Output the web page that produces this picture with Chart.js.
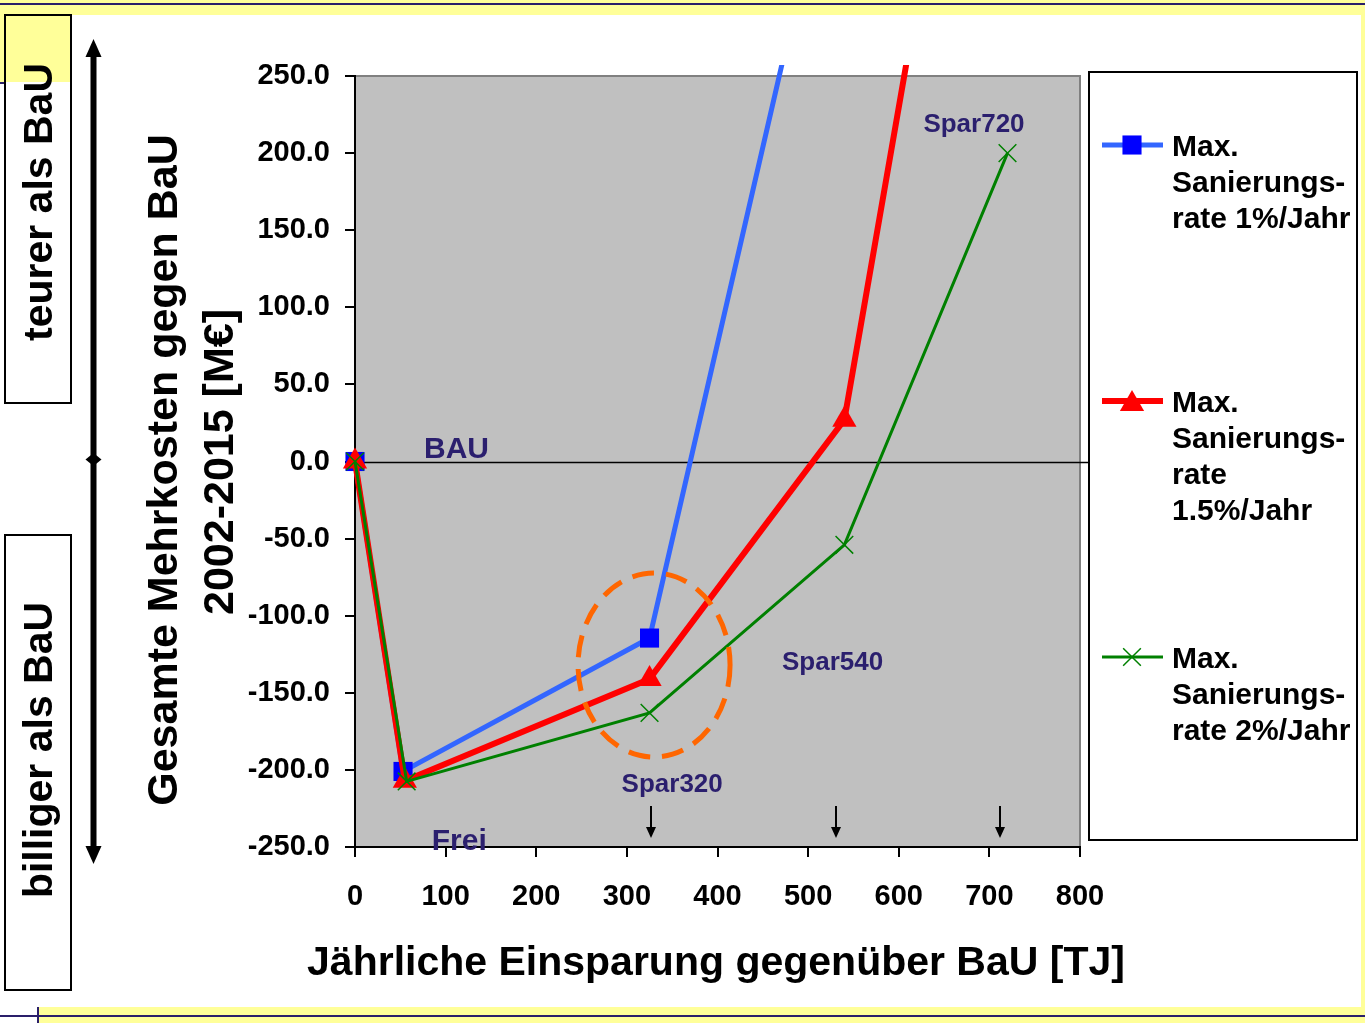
<!DOCTYPE html>
<html>
<head>
<meta charset="utf-8">
<script src="https://cdn.jsdelivr.net/npm/chart.js@4.4.1/dist/chart.umd.min.js"></script>
<style>
html, body { margin: 0; padding: 0; background: #fff; }
#wrap { width: 1365px; height: 1023px; position: relative; }
</style>
</head>
<body>
<div id="wrap"><canvas id="c" width="1365" height="1023"></canvas></div>
<script>
// Einsparung [TJ] (x) und Mehrkosten [M€] (y) je Sanierungsrate
const xRate1 = [0, 53, 325, 540];
const yRate1 = [0, -201, -114.5, 433];
const xRate15 = [0, 55, 325, 540, 720];
const yRate15 = [0, -207, -141, 27, 635];
const xRate2 = [0, 57, 325, 540, 720];
const yRate2 = [0, -207.5, -163, -54, 200];

const seriesNames = [
    ['Max.', 'Sanierungs-', 'rate 1%/Jahr'],
    ['Max.', 'Sanierungs-', 'rate', '1.5%/Jahr'],
    ['Max.', 'Sanierungs-', 'rate 2%/Jahr']
];

const xTitle = 'Jährliche Einsparung gegenüber BaU [TJ]';
const yTitle = ['Gesamte Mehrkosten gegen BaU', '2002-2015 [M€]'];

// Beschriftungen im Diagramm (Datenkoordinaten)
const noteText = ['BAU', 'Frei', 'Spar320', 'Spar540', 'Spar720'];
const noteX = [112, 115, 350, 527, 683];
const noteY = [7.4, -246.6, -209.6, -130.6, 218.4];
const noteSize = [30, 30, 26, 26, 26];
const arrowX = [327, 531, 712];

const FONT = '"Liberation Sans", Arial, sans-serif';

function pts(xs, ys) {
    return xs.map((x, i) => ({ x: x, y: ys[i] }));
}

const decor = {
    id: 'decor',
    beforeDraw(chart) {
        const ctx = chart.ctx, a = chart.chartArea;
        ctx.save();
        // Rahmen der Folie
        ctx.fillStyle = '#ffff99';
        ctx.fillRect(0, 0, 1365, 15);
        ctx.fillRect(38, 1007, 1327, 16);
        ctx.fillRect(1361, 0, 4, 1023);
        ctx.fillRect(0, 15, 72, 67);
        ctx.fillStyle = '#2a1f6a';
        ctx.fillRect(0, 3, 1365, 2);
        ctx.fillRect(0, 1015, 1365, 2);
        ctx.fillRect(0, 82, 5, 2);
        ctx.fillRect(37, 1007, 2, 16);
        // Plotfläche
        ctx.fillStyle = '#c0c0c0';
        ctx.fillRect(a.left, a.top, a.right - a.left, a.bottom - a.top);
        ctx.strokeStyle = '#808080';
        ctx.lineWidth = 2;
        ctx.beginPath();
        ctx.moveTo(a.left, a.top);
        ctx.lineTo(a.right, a.top);
        ctx.lineTo(a.right, a.bottom);
        ctx.stroke();
        ctx.restore();
    },
    beforeDatasetsDraw(chart) {
        const ctx = chart.ctx, a = chart.chartArea, y = chart.scales.y;
        const y0 = Math.round(y.getPixelForValue(0)) + 0.5;
        ctx.save();
        ctx.strokeStyle = '#000';
        ctx.lineWidth = 1.5;
        ctx.beginPath();
        ctx.moveTo(a.left - 10, y0);
        ctx.lineTo(1089, y0);
        ctx.stroke();
        ctx.restore();
    },
    afterDraw(chart) {
        const ctx = chart.ctx, a = chart.chartArea;
        const xs = chart.scales.x, ys = chart.scales.y;
        ctx.save();

        // Oranger Kreis um Spar320
        ctx.strokeStyle = '#ff6600';
        ctx.lineWidth = 5;
        ctx.setLineDash([22, 12]);
        ctx.beginPath();
        ctx.ellipse(xs.getPixelForValue(330), ys.getPixelForValue(-132), 76, 92, 0, 0, Math.PI * 2);
        ctx.stroke();
        ctx.setLineDash([]);

        // Texte im Diagramm
        ctx.fillStyle = '#2b1f6e';
        ctx.textAlign = 'center';
        ctx.textBaseline = 'middle';
        noteText.forEach((t, i) => {
            ctx.font = 'bold ' + noteSize[i] + 'px ' + FONT;
            ctx.fillText(t, xs.getPixelForValue(noteX[i]), ys.getPixelForValue(noteY[i]));
        });

        // kleine Pfeile
        ctx.strokeStyle = '#000';
        ctx.fillStyle = '#000';
        ctx.lineWidth = 2;
        arrowX.forEach(v => {
            const px = Math.round(xs.getPixelForValue(v));
            const top = a.bottom - 41, tip = a.bottom - 9;
            ctx.beginPath();
            ctx.moveTo(px, top);
            ctx.lineTo(px, tip - 8);
            ctx.stroke();
            ctx.beginPath();
            ctx.moveTo(px - 5, tip - 11);
            ctx.lineTo(px + 5, tip - 11);
            ctx.lineTo(px, tip);
            ctx.closePath();
            ctx.fill();
        });

        // Achsentitel
        ctx.fillStyle = '#000';
        ctx.textAlign = 'center';
        ctx.textBaseline = 'alphabetic';
        ctx.font = 'bold 41px ' + FONT;
        ctx.fillText(xTitle, 716, 975);
        ctx.font = 'bold 43px ' + FONT;
        ctx.save();
        ctx.translate(177, 470);
        ctx.rotate(-Math.PI / 2);
        ctx.fillText(yTitle[0], 0, 0);
        ctx.restore();
        ctx.save();
        ctx.translate(233, 462);
        ctx.rotate(-Math.PI / 2);
        ctx.fillText(yTitle[1], 0, 0);
        ctx.restore();

        // Kästen links
        ctx.strokeStyle = '#000';
        ctx.lineWidth = 2;
        ctx.strokeRect(5, 15, 66, 388);
        ctx.strokeRect(5, 535, 66, 455);
        ctx.font = 'bold 41px ' + FONT;
        ctx.save();
        ctx.translate(52, 202);
        ctx.rotate(-Math.PI / 2);
        ctx.fillText('teurer als BaU', 0, 0);
        ctx.restore();
        ctx.save();
        ctx.translate(52, 750);
        ctx.rotate(-Math.PI / 2);
        ctx.fillText('billiger als BaU', 0, 0);
        ctx.restore();

        // Doppelpfeil
        ctx.lineWidth = 6;
        ctx.beginPath();
        ctx.moveTo(93.5, 52);
        ctx.lineTo(93.5, 850);
        ctx.stroke();
        ctx.beginPath();
        ctx.moveTo(93.5, 39);
        ctx.lineTo(101.5, 57);
        ctx.lineTo(85.5, 57);
        ctx.closePath();
        ctx.fill();
        ctx.beginPath();
        ctx.moveTo(93.5, 864);
        ctx.lineTo(101.5, 846);
        ctx.lineTo(85.5, 846);
        ctx.closePath();
        ctx.fill();
        ctx.beginPath();
        ctx.moveTo(93.5, 453);
        ctx.lineTo(101.5, 459.5);
        ctx.lineTo(93.5, 466);
        ctx.lineTo(85.5, 459.5);
        ctx.closePath();
        ctx.fill();

        // Legende
        ctx.fillStyle = '#fff';
        ctx.fillRect(1089, 72, 268, 768);
        ctx.lineWidth = 2;
        ctx.strokeRect(1089, 72, 268, 768);
        const rowY = [145, 401, 657];
        ctx.font = 'bold 30px ' + FONT;
        ctx.textAlign = 'left';
        ctx.textBaseline = 'middle';
        chart.data.datasets.forEach((ds, i) => {
            const ly = rowY[i];
            ctx.strokeStyle = ds.borderColor;
            ctx.lineWidth = ds.borderWidth;
            ctx.beginPath();
            ctx.moveTo(1102, ly);
            ctx.lineTo(1163, ly);
            ctx.stroke();
            ctx.fillStyle = ds.pointBackgroundColor;
            ctx.strokeStyle = ds.pointBorderColor;
            ctx.lineWidth = ds.pointBorderWidth;
            Chart.helpers.drawPoint(ctx, {
                pointStyle: ds.pointStyle,
                radius: ds.pointRadius,
                borderWidth: ds.pointBorderWidth,
                rotation: 0
            }, 1132, ly + (ds.pointStyle === 'triangle' ? 3 : 0));
            ctx.fillStyle = '#000';
            seriesNames[i].forEach((line, k) => {
                ctx.fillText(line, 1172, ly + 3 + k * 36);
            });
        });
        ctx.restore();
    }
};

const ctx = document.getElementById('c').getContext('2d');
const lineClip = { left: 20, top: 11, right: 20, bottom: 20 };

window.chart = new Chart(ctx, {
    type: 'scatter',
    data: {
        datasets: [{
            label: seriesNames[0].join(' '),
            data: pts(xRate1, yRate1),
            showLine: true,
            borderColor: '#3366ff',
            borderWidth: 5,
            pointStyle: 'rect',
            pointRadius: 13.5,
            pointBackgroundColor: '#0000ff',
            pointBorderColor: '#0000ff',
            pointBorderWidth: 0,
            clip: lineClip,
            order: 3
        }, {
            label: seriesNames[1].join(' '),
            data: pts(xRate15, yRate15),
            showLine: true,
            borderColor: '#ff0000',
            borderWidth: 6,
            pointStyle: 'triangle',
            pointRadius: 14,
            pointBackgroundColor: '#ff0000',
            pointBorderColor: '#ff0000',
            pointBorderWidth: 0,
            clip: lineClip,
            order: 2
        }, {
            label: seriesNames[2].join(' '),
            data: pts(xRate2, yRate2),
            showLine: true,
            borderColor: '#008000',
            borderWidth: 3,
            pointStyle: 'crossRot',
            pointRadius: 12.5,
            pointBackgroundColor: '#008000',
            pointBorderColor: '#008000',
            pointBorderWidth: 1.5,
            clip: lineClip,
            order: 1
        }]
    },
    options: {
        responsive: false,
        animation: false,
        devicePixelRatio: 1,
        layout: { padding: { top: 76, right: 285, left: 0, bottom: 0 } },
        elements: { line: { tension: 0 } },
        plugins: {
            legend: { display: false },
            tooltip: { enabled: false }
        },
        scales: {
            x: {
                type: 'linear',
                min: 0,
                max: 800,
                afterFit: s => { s.height = 176; },
                ticks: {
                    stepSize: 100,
                    color: '#000',
                    padding: 23,
                    maxRotation: 0,
                    font: { family: FONT, weight: 'bold', size: 29 }
                },
                grid: { drawOnChartArea: false, tickLength: 10, color: '#000', lineWidth: 2 },
                border: { color: '#000', width: 2 }
            },
            y: {
                min: -250,
                max: 250,
                afterFit: s => { s.width = 355; },
                ticks: {
                    stepSize: 50,
                    color: '#000',
                    padding: 15,
                    font: { family: FONT, weight: 'bold', size: 29 },
                    callback: v => v.toFixed(1)
                },
                grid: { drawOnChartArea: false, tickLength: 10, color: '#000', lineWidth: 2 },
                border: { color: '#000', width: 2 }
            }
        }
    },
    plugins: [decor]
});
</script>
</body>
</html>
